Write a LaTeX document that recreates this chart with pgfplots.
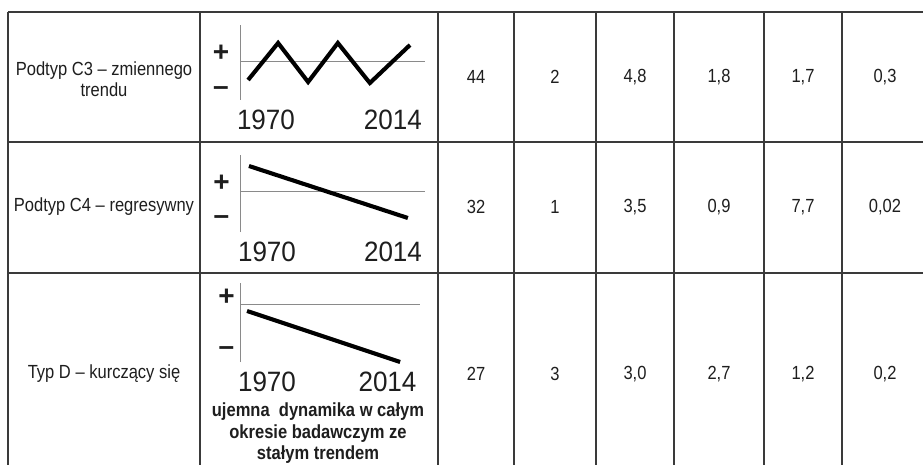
\documentclass[border=0pt]{standalone}
\usepackage{pgfplots}
\pgfplotsset{compat=1.18}
\usepackage{fontspec}
\setmainfont{Liberation Sans}
\newfontfamily\narrowfont[FakeStretch=0.87]{Liberation Sans}
\newfontfamily\chartfont[FakeStretch=0.93]{Liberation Sans}
\definecolor{rule}{HTML}{3A3A3A}
\definecolor{txt}{HTML}{1E1E1E}
\definecolor{zline}{HTML}{8A8A8A}

\pgfplotsset{
  minichart/.style={
    scale only axis,
    clip=false,
    axis line style={draw=none},
    tick style={draw=none},
    major tick length=0pt,
    xtick={1970,2014},
    xticklabels={1970,2014},
    xticklabel style={font=\chartfont\fontsize{28}{28}\selectfont, text=txt, inner sep=0pt, anchor=north, yshift=-10pt},
    yticklabel style={font=\bfseries\fontsize{28}{28}\selectfont, text=txt, inner sep=0pt, anchor=center},
    yticklabels={+,–},
  },
  trend/.style={black, line width=4.1pt, line cap=butt, line join=miter, mark=none},
}

\begin{document}
\begin{tikzpicture}
\useasboundingbox (0pt,0pt) rectangle (923pt,-465pt);
\fill[white] (0pt,0pt) rectangle (923pt,-465pt);

\begin{scope}[x=1pt,y=-1pt]
  % table rules
  \foreach \yy in {12,142,273} {\draw[rule, line width=1.5pt] (8,\yy) -- (925,\yy);}
  \foreach \xx in {8,200,438,514,596,674,764,842} {\draw[rule, line width=1.5pt] (\xx,12) -- (\xx,467);}

  \begin{scope}[every node/.style={font=\narrowfont\fontsize{19}{21}\selectfont, text=txt, inner sep=0pt}]
  % row labels
  \node[align=center] at (104,79) {Podtyp C3 – zmiennego\\trendu};
  \node at (104,207) {Podtyp C4 – regresywny};
  \node at (104,374) {Typ D – kurczący się};
  % row 1 values
  \node at (476,77) {44};
  \node at (555,77) {2};
  \node at (635,77) {4,8};
  \node at (719,77) {1,8};
  \node at (803,77) {1,7};
  \node at (885,77) {0,3};
  % row 2 values
  \node at (476,207) {32};
  \node at (555,207) {1};
  \node at (635,207) {3,5};
  \node at (719,207) {0,9};
  \node at (803,207) {7,7};
  \node at (885,207) {0,02};
  % row 3 values
  \node at (476,374) {27};
  \node at (555,374) {3};
  \node at (635,374) {3,0};
  \node at (719,374) {2,7};
  \node at (803,374) {1,2};
  \node at (885,374) {0,2};
  \end{scope}

  \node[font=\narrowfont\bfseries\fontsize{19}{21.5}\selectfont, text=txt, align=center, inner sep=0pt, anchor=north]
    at (318,403) {ujemna~ dynamika w całym\\okresie badawczym ze\\stałym trendem};
\end{scope}

% ---- mini chart 1: Podtyp C3 ----
\begin{axis}[minichart,
  at={(240pt,-100pt)}, anchor=south west,
  width=185pt, height=75pt,
  xmin=1961.0, xmax=2025.1, ymin=-38, ymax=37,
  ytick={9,-29},
  yticklabel style={xshift=-19pt},
]
  \draw[zline, line width=1pt] (rel axis cs:0,0) -- (rel axis cs:0,1);
  \draw[zline, line width=1pt] (axis cs:1961.0,0) -- (axis cs:2025.1,0);
  \addplot[trend] coordinates {(1963.8,-18) (1974.2,19) (1984.6,-20) (1994.9,19) (2006.0,-21) (2019.9,17)};
\end{axis}

% ---- mini chart 2: Podtyp C4 ----
\begin{axis}[minichart,
  at={(240pt,-232pt)}, anchor=south west,
  width=185pt, height=77pt,
  xmin=1960.57, xmax=2025.18, ymin=-40, ymax=37,
  ytick={9,-28},
  yticklabel style={xshift=-18.5pt},
]
  \draw[zline, line width=1pt] (rel axis cs:0,0) -- (rel axis cs:0,1);
  \draw[zline, line width=1pt] (axis cs:1960.57,0) -- (axis cs:2025.18,0);
  \addplot[trend] coordinates {(1963.7,26) (2019.2,-26)};
\end{axis}

% ---- mini chart 3: Typ D ----
\begin{axis}[minichart,
  at={(240pt,-362pt)}, anchor=south west,
  width=180pt, height=79pt,
  xmin=1960.14, xmax=2025.87, ymin=-57, ymax=22,
  ytick={8,-46},
  yticklabel style={xshift=-13.5pt},
]
  \draw[zline, line width=1pt] (rel axis cs:0,0) -- (rel axis cs:0,1);
  \draw[zline, line width=1pt] (axis cs:1960.14,0) -- (axis cs:2025.87,0);
  \addplot[trend] coordinates {(1962.7,-6) (2018.6,-57)};
\end{axis}
\end{tikzpicture}
\end{document}
